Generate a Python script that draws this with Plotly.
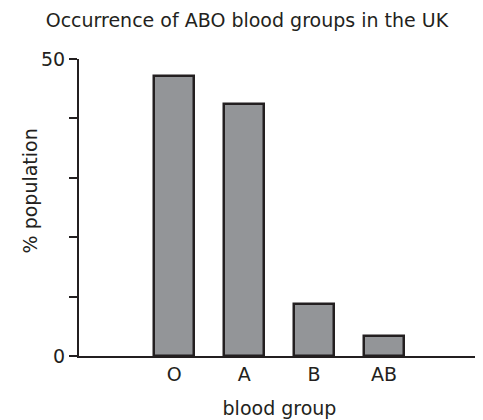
import plotly.graph_objects as go

categories = ["O", "A", "B", "AB"]
values = [47.2, 42.5, 8.7, 3.3]
y_tickvals = [0, 10, 20, 30, 40, 50]
y_ticktext = ["0", "", "", "", "", "50"]

FONT = "'DejaVu Sans', sans-serif"
DARK = "#231f20"
FS = 19

fig = go.Figure(go.Bar(
    x=list(range(len(categories))),
    y=values,
    width=0.57,
    marker=dict(color="#939598", line=dict(color=DARK, width=2.5)),
))

# page body has an 8px margin; figure sized to fit the 483x420 window
fig.update_layout(
    width=475, height=412,
    margin=dict(l=71, r=3, t=51, b=64),
    paper_bgcolor="white", plot_bgcolor="white",
    font=dict(family=FONT, size=FS, color=DARK),
    showlegend=False,
    title=dict(text="Occurrence of ABO blood groups in the UK",
               x=0.503, xanchor="center", y=0.985, yanchor="top",
               font=dict(size=FS, family=FONT, color=DARK)),
    bargap=0,
    annotations=[dict(
        text="% population", textangle=-90,
        xref="paper", yref="paper", x=0, y=0.554,
        xanchor="center", yanchor="middle", xshift=-49,
        showarrow=False, font=dict(size=FS, family=FONT, color=DARK),
    )],
)
fig.update_xaxes(
    range=[-1.36, 4.37],
    tickvals=list(range(len(categories))), ticktext=categories,
    showline=True, linecolor=DARK, linewidth=2,
    showgrid=False, zeroline=False, ticks="",
    tickfont=dict(size=FS),
    title=dict(text="blood group", font=dict(size=FS), standoff=18),
)
fig.update_yaxes(
    range=[0, 50],
    tickvals=y_tickvals, ticktext=y_ticktext,
    showline=True, linecolor=DARK, linewidth=2,
    showgrid=False, zeroline=False,
    ticks="outside", ticklen=8, tickwidth=2, tickcolor=DARK,
    tickfont=dict(size=FS),
)

fig.write_html("out.html")
